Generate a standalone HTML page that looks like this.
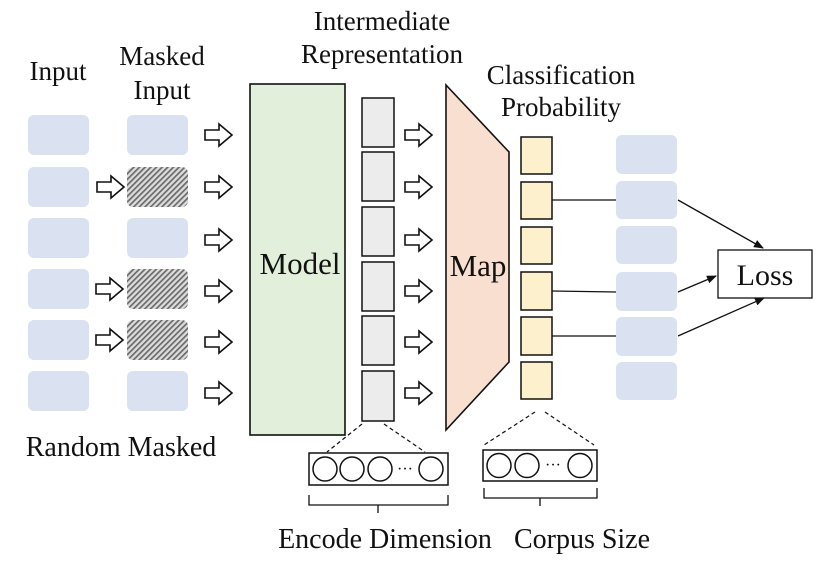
<!DOCTYPE html>
<html><head><meta charset="utf-8"><style>
body{margin:0;background:#fff}
svg text{font-family:"Liberation Serif",serif;fill:#111}
</style></head><body>
<svg width="824" height="572" viewBox="0 0 824 572" xmlns="http://www.w3.org/2000/svg">
<defs>
<pattern id="h" width="4" height="4" patternUnits="userSpaceOnUse" patternTransform="rotate(45)">
<rect width="4" height="4" fill="#dcdcdc"/><rect width="1.7" height="4" fill="#6a6a6a"/></pattern>
<g id="ha"><path d="M0,-5 L14,-5 L14,-11 L27,0 L14,11 L14,5 L0,5 Z" fill="#fff" stroke="#111" stroke-width="1.6" stroke-linejoin="miter"/></g>
<marker id="ar" markerWidth="10" markerHeight="8" refX="9" refY="4" orient="auto" markerUnits="userSpaceOnUse"><path d="M0,0 L10,4 L0,8 Z" fill="#111"/></marker>
</defs>
<text x="58" y="80" font-size="27" text-anchor="middle">Input</text>
<text x="162" y="65" font-size="27" text-anchor="middle">Masked</text>
<text x="162" y="99" font-size="27" text-anchor="middle">Input</text>
<text x="382" y="30" font-size="27" text-anchor="middle">Intermediate</text>
<text x="382" y="63" font-size="27" text-anchor="middle">Representation</text>
<text x="561" y="84" font-size="27" text-anchor="middle">Classification</text>
<text x="561" y="116" font-size="27" text-anchor="middle">Probability</text>
<text x="121" y="456" font-size="28" text-anchor="middle">Random Masked</text>
<text x="385" y="548" font-size="28" text-anchor="middle">Encode Dimension</text>
<text x="582" y="548" font-size="28" text-anchor="middle">Corpus Size</text>
<g fill="#dae1f0">
<rect x="28" y="115" width="61" height="40" rx="6"/><rect x="28" y="167" width="61" height="40" rx="6"/>
<rect x="28" y="218" width="61" height="40" rx="6"/><rect x="28" y="269" width="61" height="40" rx="6"/>
<rect x="28" y="320" width="61" height="40" rx="6"/><rect x="28" y="371" width="61" height="40" rx="6"/>
<rect x="127" y="115" width="61" height="40" rx="6"/><rect x="127" y="218" width="61" height="40" rx="6"/>
<rect x="127" y="371" width="61" height="40" rx="6"/>
<rect x="616" y="135" width="61" height="39" rx="6"/><rect x="616" y="181" width="61" height="38" rx="6"/>
<rect x="616" y="226" width="61" height="38" rx="6"/><rect x="616" y="272" width="61" height="39" rx="6"/>
<rect x="616" y="317" width="61" height="39" rx="6"/><rect x="616" y="362" width="61" height="38" rx="6"/>
</g>
<g fill="url(#h)">
<rect x="127" y="167" width="61" height="40" rx="6"/><rect x="127" y="269" width="61" height="40" rx="6"/><rect x="127" y="320" width="61" height="40" rx="6"/>
</g>
<use href="#ha" x="97" y="187"/><use href="#ha" x="96" y="289"/><use href="#ha" x="96" y="340"/>
<use href="#ha" x="205" y="135"/><use href="#ha" x="205" y="187"/><use href="#ha" x="205" y="240"/>
<use href="#ha" x="205" y="291"/><use href="#ha" x="205" y="342"/><use href="#ha" x="205" y="393"/>
<use href="#ha" x="405" y="135"/><use href="#ha" x="405" y="187"/><use href="#ha" x="405" y="240"/>
<use href="#ha" x="405" y="291"/><use href="#ha" x="405" y="342"/><use href="#ha" x="405" y="393"/>
<rect x="250" y="84" width="95" height="351" fill="#e2efda" stroke="#111" stroke-width="1.6"/>
<text x="300" y="274" font-size="31" text-anchor="middle">Model</text>
<g fill="#ececec" stroke="#111" stroke-width="1.5">
<rect x="362" y="98" width="32" height="49"/><rect x="362" y="152" width="32" height="49"/>
<rect x="362" y="207" width="32" height="49"/><rect x="362" y="262" width="32" height="49"/>
<rect x="362" y="316" width="32" height="49"/><rect x="362" y="371" width="32" height="50"/>
</g>
<path d="M446,85 L509,152 L509,362 L446,430 Z" fill="#f8dfd0" stroke="#111" stroke-width="1.6"/>
<text x="478" y="276" font-size="31" text-anchor="middle">Map</text>
<g fill="#fdf0cc" stroke="#111" stroke-width="1.5">
<rect x="521" y="137" width="31" height="37"/><rect x="521" y="182" width="31" height="37"/>
<rect x="521" y="227" width="31" height="37"/><rect x="521" y="272" width="31" height="38"/>
<rect x="521" y="317" width="31" height="38"/><rect x="521" y="362" width="31" height="37"/>
</g>
<g stroke="#111" stroke-width="1.3">
<line x1="552" y1="200" x2="616" y2="200"/><line x1="552" y1="291" x2="616" y2="292"/><line x1="552" y1="336" x2="616" y2="336"/>
<line x1="678" y1="200" x2="763" y2="248" marker-end="url(#ar)"/>
<line x1="678" y1="292" x2="716" y2="276" marker-end="url(#ar)"/>
<line x1="678" y1="336" x2="764" y2="298" marker-end="url(#ar)"/>
</g>
<rect x="718" y="250" width="94" height="48" fill="#fff" stroke="#111" stroke-width="1.3"/>
<text x="765" y="285" font-size="30" text-anchor="middle">Loss</text>
<g stroke="#111" stroke-width="1.2" stroke-dasharray="4,3" fill="none">
<line x1="362" y1="424" x2="327" y2="452"/><line x1="384" y1="424" x2="425" y2="452"/>
<line x1="535" y1="412" x2="484" y2="445"/><line x1="545" y1="412" x2="594" y2="445"/>
</g>
<g stroke="#111" stroke-width="1.5" fill="#fff">
<rect x="309" y="453" width="139" height="32"/>
<circle cx="325" cy="469" r="12"/><circle cx="352" cy="469" r="12"/><circle cx="380" cy="469" r="12"/><circle cx="431" cy="469" r="12"/>
<rect x="483" y="450" width="114" height="31"/>
<circle cx="499" cy="465.5" r="12"/><circle cx="527" cy="465.5" r="12"/><circle cx="580" cy="465.5" r="12"/>
</g>
<text x="405" y="474" font-size="16" text-anchor="middle">···</text>
<text x="553" y="470" font-size="16" text-anchor="middle">···</text>
<g stroke="#111" stroke-width="1.3" fill="none">
<path d="M309,495 L309,505 L448,505 L448,495 M378,505 L378,513"/>
<path d="M484,488 L484,498 L597,498 L597,488 M540,498 L540,506"/>
</g>
</svg>
</body></html>
